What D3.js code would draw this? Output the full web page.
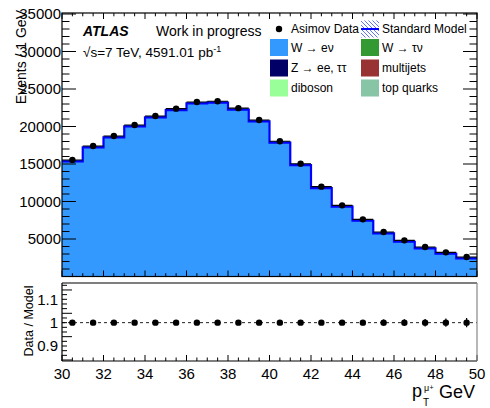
<!DOCTYPE html>
<html>
<head>
<meta charset="utf-8">
<script src="https://cdn.jsdelivr.net/npm/d3@7"></script>
<style>
  html, body { margin: 0; padding: 0; background: #fff; }
  svg { display: block; }
  text { font-family: "Liberation Sans", Arial, Helvetica, sans-serif; fill: #000; }
</style>
</head>
<body>
<svg id="chart" width="490" height="408"></svg>
<script>
// Muon pT distribution: stacked W -> e nu prediction, Asimov data and ratio.
const binLow = [30, 31, 32, 33, 34, 35, 36, 37, 38, 39, 40, 41, 42, 43, 44, 45, 46, 47, 48, 49];
const binWidth = 1;
const wenu = [15530, 17400, 18730, 20200, 21400, 22380, 23270, 23360, 22450, 20870,
              18030, 15040, 11980, 9490, 7620, 5930, 4820, 3930, 3220, 2600];
const asimovData = [15530, 17400, 18730, 20200, 21400, 22380, 23270, 23360, 22450, 20870,
                    18030, 15040, 11980, 9490, 7620, 5930, 4820, 3930, 3220, 2600];
const ratioValues = [1, 1, 1, 1, 1, 1, 1, 1, 1, 1, 1, 1, 1, 1, 1, 1, 1, 1, 1, 1];
const ratioErrors = [0.008, 0.0076, 0.0073, 0.0070, 0.0068, 0.0067, 0.0066, 0.0065, 0.0067, 0.0069,
                     0.0074, 0.0082, 0.0091, 0.0103, 0.0115, 0.0130, 0.0144, 0.0160, 0.0176, 0.0196];
const yTicksMain = [5000, 10000, 15000, 20000, 25000, 30000, 35000];
const yTicksRatio = [0.9, 1, 1.1];
const xTicks = [30, 32, 34, 36, 38, 40, 42, 44, 46, 48, 50];

const legendEntries = [
  { label: "Asimov Data", kind: "marker" },
  { label: "Standard Model", kind: "band" },
  { label: "W \u2192 e\u03bd", kind: "box", color: "#3399ff" },
  { label: "W \u2192 \u03c4\u03bd", kind: "box", color: "#339933" },
  { label: "Z \u2192 ee, \u03c4\u03c4", kind: "box", color: "#000066" },
  { label: "multijets", kind: "box", color: "#993333" },
  { label: "diboson", kind: "box", color: "#99ff99" },
  { label: "top quarks", kind: "box", color: "#88c4a6" }
];

const svg = d3.select("#chart");
const left = 62, right = 477;
const mainTop = 13, mainBottom = 276.5;
const ratioTop = 283, ratioBottom = 361;

const x = d3.scaleLinear().domain([30, 50]).range([left, right]);
const y = d3.scaleLinear().domain([0, 35000]).range([mainBottom, 14]);
const yr = d3.scaleLinear().domain([0.9, 1.1]).range([346, 299.3]);

const bins = binLow.map((lo, i) => ({ lo, hi: lo + binWidth, v: wenu[i], d: asimovData[i],
                                      r: ratioValues[i], e: ratioErrors[i] }));
const stepPts = bins.map(b => [b.lo, b.v]).concat([[50, wenu[wenu.length - 1]]]);

// ---------- main panel ----------
const main = svg.append("g");
main.append("clipPath").attr("id", "clipMain")
  .append("rect").attr("x", left).attr("y", mainTop).attr("width", right - left).attr("height", mainBottom - mainTop);

const plot = main.append("g").attr("clip-path", "url(#clipMain)");
plot.append("path")
  .datum(stepPts)
  .attr("fill", "#3399ff")
  .attr("d", d3.area().curve(d3.curveStepAfter).x(d => x(d[0])).y0(mainBottom).y1(d => y(d[1])));
// total model outline (blue) with the stack edge on top (black)
plot.append("path")
  .datum(stepPts)
  .attr("fill", "none").attr("stroke", "#0000ff").attr("stroke-width", 2.2)
  .attr("transform", "translate(0,1.4)")
  .attr("d", d3.line().curve(d3.curveStepAfter).x(d => x(d[0])).y(d => y(d[1])));
plot.selectAll("line.edge").data(bins).join("line")
  .attr("class", "edge")
  .attr("x1", d => x(d.lo)).attr("x2", d => x(d.hi))
  .attr("y1", d => y(d.v)).attr("y2", d => y(d.v))
  .attr("stroke", "#000").attr("stroke-width", 1.1);

plot.selectAll("circle.data").data(bins).join("circle")
  .attr("class", "data")
  .attr("cx", d => x(d.lo + binWidth / 2)).attr("cy", d => y(d.d))
  .attr("r", 3.2).attr("fill", "#000");

// axes (ticks pointing inward, ROOT style)
function ticksX(g, yPos, dir, majLen, minLen) {
  const minors = d3.range(30, 50.001, 0.5);
  g.selectAll(null).data(minors).join("line")
    .attr("x1", d => x(d)).attr("x2", d => x(d))
    .attr("y1", yPos).attr("y2", d => yPos + dir * ((Math.abs(d % 2) < 1e-6) ? majLen : minLen))
    .attr("stroke", "#000").attr("stroke-width", 1);
}
function ticksY(g, scale, xPos, dir, lo, hi, step, majorEvery, majLen, minLen) {
  const n = Math.round((hi - lo) / step);
  const vals = d3.range(n + 1).map(i => lo + i * step);
  g.selectAll(null).data(vals).join("line")
    .attr("y1", d => scale(d)).attr("y2", d => scale(d))
    .attr("x1", xPos)
    .attr("x2", d => xPos + dir * ((Math.round((d - lo) / step) % majorEvery === 0) ? majLen : minLen))
    .attr("stroke", "#000").attr("stroke-width", 1);
}

const axMain = main.append("g");
ticksX(axMain, mainBottom, -1, 6, 3.3);
ticksX(axMain, mainTop, 1, 6, 3.3);
ticksY(axMain, y, left, 1, 0, 35000, 1000, 5, 14, 7.5);
ticksY(axMain, y, right, -1, 0, 35000, 1000, 5, 14, 7.5);
main.append("rect").attr("x", left).attr("y", mainTop)
  .attr("width", right - left).attr("height", mainBottom - mainTop)
  .attr("fill", "none").attr("stroke", "#000").attr("stroke-width", 1.2);

main.selectAll("text.ylab").data(yTicksMain).join("text")
  .attr("class", "ylab")
  .attr("x", 61).attr("y", d => y(d) + 5.4)
  .attr("text-anchor", "end").attr("font-size", 15)
  .text(d => d);

main.append("text")
  .attr("transform", "translate(26,10) rotate(-90)")
  .attr("text-anchor", "end").attr("font-size", 14)
  .text("Events / 1 GeV");

// labels
main.append("text").attr("x", 83).attr("y", 35.5)
  .attr("font-size", 14).attr("font-weight", "bold").attr("font-style", "italic")
  .text("ATLAS");
main.append("text").attr("x", 156).attr("y", 35.5).attr("font-size", 14)
  .text("Work in progress");
const lumi = main.append("text").attr("x", 83).attr("y", 57).attr("font-size", 13.5);
lumi.append("tspan").text("\u221as=7 TeV, 4591.01 pb");
lumi.append("tspan").attr("dy", -5).attr("font-size", 9).text("-1");

// legend
const defs = svg.append("defs");
const pat = defs.append("pattern").attr("id", "hatch").attr("patternUnits", "userSpaceOnUse")
  .attr("width", 4).attr("height", 4);
pat.append("path").attr("d", "M-1,-1 L5,5 M-1,3 L1,5 M3,-1 L5,1")
  .attr("stroke", "#3355ff").attr("stroke-width", 0.8);

const legCols = [270, 361];
const legRowY = [29, 47.5, 68, 88];
const leg = main.append("g");
legendEntries.forEach((e, i) => {
  const cx = legCols[i % 2], cy = legRowY[Math.floor(i / 2)];
  const g = leg.append("g");
  if (e.kind === "marker") {
    g.append("circle").attr("cx", cx + 9).attr("cy", cy).attr("r", 3.2).attr("fill", "#000");
  } else if (e.kind === "band") {
    g.append("rect").attr("x", cx).attr("y", cy - 8.5).attr("width", 18).attr("height", 17)
      .attr("fill", "url(#hatch)");
    g.append("line").attr("x1", cx).attr("x2", cx + 18).attr("y1", cy).attr("y2", cy)
      .attr("stroke", "#0000ff").attr("stroke-width", 2);
  } else {
    g.append("rect").attr("x", cx).attr("y", cy - 8.5).attr("width", 18).attr("height", 17)
      .attr("fill", e.color);
  }
  g.append("text").attr("x", cx + 21).attr("y", cy + 4.3).attr("font-size", 12).text(e.label);
});

// ---------- ratio panel ----------
const rp = svg.append("g");
rp.append("line").attr("x1", left).attr("x2", right).attr("y1", yr(1)).attr("y2", yr(1))
  .attr("stroke", "#222").attr("stroke-width", 1).attr("stroke-dasharray", "3,3");
rp.selectAll("line.err").data(bins).join("line")
  .attr("class", "err")
  .attr("x1", d => x(d.lo + binWidth / 2)).attr("x2", d => x(d.lo + binWidth / 2))
  .attr("y1", d => yr(d.r - d.e)).attr("y2", d => yr(d.r + d.e))
  .attr("stroke", "#000").attr("stroke-width", 1.2);
rp.selectAll("circle.rat").data(bins).join("circle")
  .attr("class", "rat")
  .attr("cx", d => x(d.lo + binWidth / 2)).attr("cy", d => yr(d.r))
  .attr("r", 3.2).attr("fill", "#000");

const axR = rp.append("g");
ticksX(axR, ratioBottom, -1, 6, 3.5);
ticksY(axR, yr, left, 1, 0.84, 1.16, 0.02, 5, 10, 5);
rp.append("line").attr("x1", left).attr("x2", right).attr("y1", ratioTop).attr("y2", ratioTop)
  .attr("stroke", "#000").attr("stroke-width", 1.2);
rp.append("line").attr("x1", left).attr("x2", right).attr("y1", ratioBottom).attr("y2", ratioBottom)
  .attr("stroke", "#000").attr("stroke-width", 1.2);
rp.append("line").attr("x1", left).attr("x2", left).attr("y1", ratioTop).attr("y2", ratioBottom)
  .attr("stroke", "#000").attr("stroke-width", 1.2);
rp.append("line").attr("x1", right).attr("x2", right).attr("y1", ratioTop).attr("y2", ratioBottom)
  .attr("stroke", "#888").attr("stroke-width", 1.2);

rp.selectAll("text.rlab").data(yTicksRatio).join("text")
  .attr("class", "rlab")
  .attr("x", 58).attr("y", d => yr(d) + 5.4)
  .attr("text-anchor", "end").attr("font-size", 15)
  .text(d => d3.format("~g")(d));
rp.append("text")
  .attr("transform", "translate(33,321) rotate(-90)")
  .attr("text-anchor", "middle").attr("font-size", 12.5)
  .text("Data / Model");

rp.selectAll("text.xlab").data(xTicks).join("text")
  .attr("class", "xlab")
  .attr("x", d => x(d)).attr("y", 378.5)
  .attr("text-anchor", "middle").attr("font-size", 15)
  .text(d => d);

// axis title: p_T^{mu+} GeV
const xt = rp.append("g");
xt.append("text").attr("x", 412).attr("y", 397).attr("font-size", 18).text("p");
xt.append("text").attr("x", 423).attr("y", 406).attr("font-size", 10).text("T");
xt.append("text").attr("x", 424).attr("y", 391).attr("font-size", 9).text("\u03bc");
xt.append("text").attr("x", 429.5).attr("y", 389.5).attr("font-size", 7).text("+");
xt.append("text").attr("x", 475).attr("y", 398).attr("text-anchor", "end").attr("font-size", 18).text("GeV");
</script>
</body>
</html>
